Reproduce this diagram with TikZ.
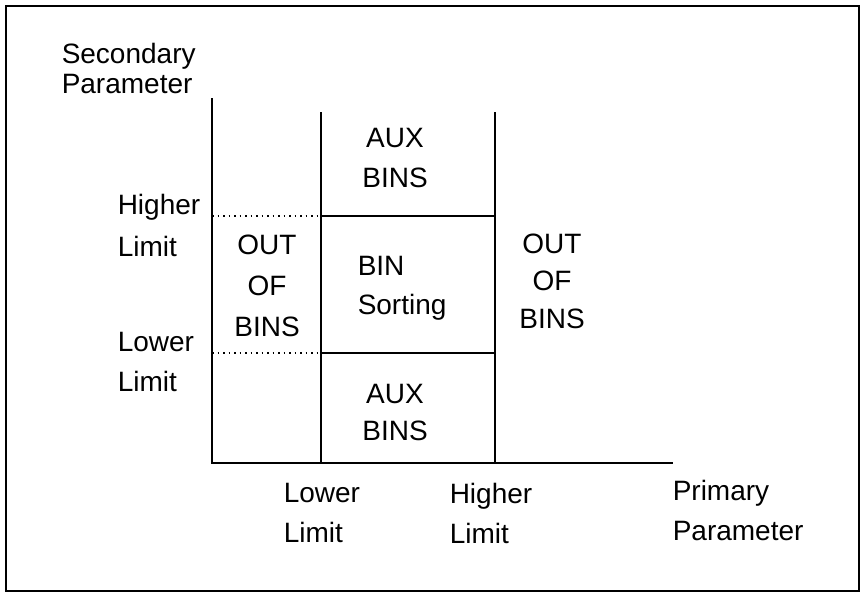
\documentclass[tikz,border=0pt]{standalone}
\usepackage{fontspec}
\setmainfont{Liberation Sans}
\usetikzlibrary{positioning}

\begin{document}
\begin{tikzpicture}[x=0.5pt,y=-0.5pt,line width=0.75pt,
  t/.style={inner sep=0pt,font=\fontsize{14}{20}\selectfont},
  tl/.style={t,anchor=north west,align=left},
  tc/.style={t,anchor=north,align=center}]
\useasboundingbox (0,0) rectangle (862,594);
\draw (6,6) rectangle (859,591);
% axes and limit lines
\coordinate (o) at (212,463); \coordinate (ytop) at (212,98); \coordinate (xend) at (673,463);
\coordinate (lo) at (321,463); \coordinate (lotop) at (321,112);
\coordinate (hi) at (495,463); \coordinate (hitop) at (495,112);
\coordinate (hl) at (212,216); \coordinate (ll) at (212,353);
\draw (ytop) -- (o) -- (xend);
\draw (lotop) -- (lo); \draw (hitop) -- (hi);
\draw (hl -| lo) -- (hl -| hi); \draw (ll -| lo) -- (ll -| hi);
\draw[dotted] (hl) -- (hl -| lo); \draw[dotted] (ll) -- (ll -| lo);
% labels
\node[tl] (ypar) at (61,42) {Secondary\\[-5pt]Parameter};
\node[tl] (yhi) at (117,193) {Higher\\[1pt]Limit};
\node[tl] (ylo) at (117,331) {Lower\\Limit};
\node[tl] (xlo) at (283,482) {Lower\\Limit};
\node[tl] (xhi) at (449,482) {Higher\\Limit};
\node[tl] (xpar) at (672,479) {Primary\\Parameter};
\node[tc] (outl) at (267,234) {OUT\\[0.5pt]OF\\[0.5pt]BINS};
\node[tc] (auxt) at (395,127) {AUX\\BINS};
\node[tl] (sort) at (357,255) {BIN\\[-0.5pt]Sorting};
\node[tc] (outr) at (552,233) {OUT\\[-1.2pt]OF\\[-1.2pt]BINS};
\node[tc] (auxb) at (395,383) {AUX\\[-1.5pt]BINS};
\end{tikzpicture}
\end{document}
